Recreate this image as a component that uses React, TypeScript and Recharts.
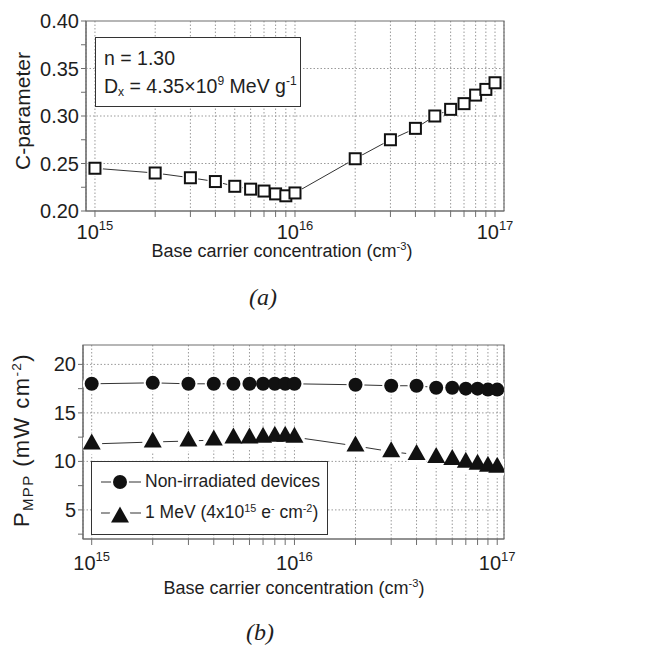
import React from "react";
import { LineChart, Line, XAxis, YAxis, CartesianGrid, ReferenceLine, ReferenceArea } from "recharts";

const FONT = "'Liberation Sans', Arial, sans-serif";
const INK = "#1e1e1e";
const AXIS = "#6e6e6e";
const GRID = "#9a9a9a";

// base carrier concentration (cm^-3), shared by both panels
const conc = [1e15, 2e15, 3e15, 4e15, 5e15, 6e15, 7e15, 8e15, 9e15, 1e16, 2e16, 3e16, 4e16, 5e16, 6e16, 7e16, 8e16, 9e16, 1e17];
// (a) C-parameter
const cParam = [0.245, 0.24, 0.235, 0.231, 0.226, 0.223, 0.221, 0.218, 0.216, 0.219, 0.255, 0.275, 0.287, 0.3, 0.307, 0.313, 0.322, 0.328, 0.335];
// (b) P_MPP (mW cm^-2)
const pNonIrr = [18.0, 18.1, 18.0, 18.0, 18.0, 18.0, 18.0, 18.0, 18.0, 18.0, 17.9, 17.8, 17.8, 17.6, 17.6, 17.5, 17.5, 17.4, 17.4];
const p1MeV = [11.8, 12.0, 12.1, 12.2, 12.4, 12.4, 12.5, 12.6, 12.6, 12.5, 11.6, 11.0, 10.7, 10.4, 10.2, 9.9, 9.7, 9.5, 9.4];

const decades = [1e15, 1e16, 1e17];
const cTicks = [0.2, 0.225, 0.25, 0.275, 0.3, 0.325, 0.35, 0.375, 0.4];
const cMajor = [0.2, 0.25, 0.3, 0.35, 0.4];
const pTicks = [2.5, 5, 7.5, 10, 12.5, 15, 17.5, 20];
const pMajor = [5, 10, 15, 20];

const xDomA = [9.02e14, 1.109e17];
const xDomB = [9.06e14, 1.08e17];
const cDom = [0.2, 0.4];
const pDom = [2, 22];

const dataA = conc.map((x, i) => ({ x, c: cParam[i] }));
const dataB = conc.map((x, i) => ({ x, non: pNonIrr[i], mev: p1MeV[i] }));

const isIn = (list: number[], v: number) => list.some((m) => Math.abs(m - v) <= Math.abs(m) * 1e-6);

const decadeTick = (dy: number) => (p: any) => {
  const v = p.payload.value;
  if (!isIn(decades, v)) return <g />;
  return (
    <text x={p.x} y={p.y} dy={dy} textAnchor="middle" fill={INK} fontSize={20} fontFamily={FONT}>
      10<tspan dy={-9} fontSize={13}>{Math.round(Math.log10(v))}</tspan>
    </text>
  );
};

const valueTick = (major: number[], digits: number) => (p: any) => {
  const v = p.payload.value;
  if (!isIn(major, v)) return <g />;
  return (
    <text x={p.x} y={p.y} dy={7} textAnchor="end" fill={INK} fontSize={20} fontFamily={FONT}>
      {v.toFixed(digits)}
    </text>
  );
};

// white halo under markers leaves a small gap in the connecting line
const halo = (r: number) => (p: any) => (
  <circle key={p.index} cx={p.cx} cy={p.cy} r={r} fill="#fff" />
);

const squareDot = (p: any) => (
  <rect key={p.index} x={p.cx - 5.5} y={p.cy - 5.5} width={11} height={11} fill="#fff" stroke="#111" strokeWidth={2} />
);

const circleDot = (p: any) => <circle key={p.index} cx={p.cx} cy={p.cy} r={7} fill="#111" />;

const triPath = (cx: number, cy: number) => `M${cx},${cy - 10.5}L${cx + 9},${cy + 5.5}L${cx - 9},${cy + 5.5}Z`;
const triDot = (p: any) => <path key={p.index} d={triPath(p.cx, p.cy)} fill="#111" />;

const sup: React.CSSProperties = { fontSize: "0.62em", position: "relative", top: "-0.62em" };
const sub: React.CSSProperties = { fontSize: "0.62em", position: "relative", top: "0.3em" };

const abs = (left: number, top: number, extra: React.CSSProperties = {}): React.CSSProperties => ({
  position: "absolute",
  left,
  top,
  fontFamily: FONT,
  color: INK,
  whiteSpace: "nowrap",
  lineHeight: 1,
  ...extra,
});

const centered = (x: number, y: number, size: number, rot = false): React.CSSProperties =>
  abs(x, y, { fontSize: size, transform: `translate(-50%,-50%)${rot ? " rotate(-90deg)" : ""}` });

const XTitle = ({ x, y }: { x: number; y: number }) => (
  <div style={centered(x, y, 18)}>
    Base carrier concentration (cm<span style={sup}>-3</span>)
  </div>
);

export default function App() {
  return (
    <div style={{ position: "absolute", left: 0, top: 0, width: 664, height: 650, background: "#fff" }}>
      <div style={{ position: "absolute", left: 0, top: 0 }}>
        <LineChart width={664} height={250} data={dataA} margin={{ top: 21, right: 160, left: 0, bottom: 0 }}>
          <CartesianGrid horizontal={false} stroke={GRID} strokeDasharray="1.5 2" />
          {[0.25, 0.3, 0.35].map((v) => (
            <ReferenceLine key={v} y={v} stroke={GRID} strokeDasharray="1.5 2" />
          ))}
          <ReferenceArea x1={xDomA[0]} x2={xDomA[1]} y1={cDom[0]} y2={cDom[1]} fill="none" stroke={AXIS} strokeWidth={1.2} ifOverflow="visible" />
          <XAxis dataKey="x" type="number" scale="log" domain={xDomA} allowDataOverflow ticks={conc} interval={0}
            height={39} stroke={AXIS} tickSize={6} tick={decadeTick(20)} />
          <YAxis type="number" domain={cDom} allowDataOverflow ticks={cTicks} interval={0} width={86}
            stroke={AXIS} tickSize={5} tick={valueTick(cMajor, 2)} />
          <Line dataKey="c" stroke="#333" strokeWidth={1} dot={halo(8)} activeDot={false} isAnimationActive={false} />
          <Line dataKey="c" stroke="none" dot={squareDot} activeDot={false} isAnimationActive={false} />
        </LineChart>
      </div>

      <div style={abs(95, 37, { width: 206, height: 70, border: "1.5px solid #333", boxSizing: "border-box", background: "#fff", fontSize: 19.5, padding: "11px 0 0 8px" })}>
        <div>n = 1.30</div>
        <div style={{ marginTop: 8 }}>
          D<span style={sub}>x</span> = 4.35×10<span style={sup}>9</span> MeV g<span style={sup}>-1</span>
        </div>
      </div>

      <div style={centered(22, 111, 21, true)}>C-parameter</div>
      <XTitle x={282} y={251} />
      <div style={abs(263, 297, { transform: "translate(-50%,-50%)", fontFamily: "'Liberation Serif', 'Times New Roman', serif", fontStyle: "italic", fontSize: 24 })}>
        (a)
      </div>

      <div style={{ position: "absolute", left: 0, top: 330 }}>
        <LineChart width={664} height={250} data={dataB} margin={{ top: 15, right: 160, left: 0, bottom: 0 }}>
          <CartesianGrid horizontal={false} stroke={GRID} strokeDasharray="1.5 2" />
          {pMajor.map((v) => (
            <ReferenceLine key={v} y={v} stroke={GRID} strokeDasharray="1.5 2" />
          ))}
          <ReferenceArea x1={xDomB[0]} x2={xDomB[1]} y1={pDom[0]} y2={pDom[1]} fill="none" stroke={AXIS} strokeWidth={1.2} ifOverflow="visible" />
          <XAxis dataKey="x" type="number" scale="log" domain={xDomB} allowDataOverflow ticks={conc} interval={0}
            height={41} stroke={AXIS} tickSize={6} tick={decadeTick(23)} />
          <YAxis type="number" domain={pDom} allowDataOverflow ticks={pTicks} interval={0} width={83}
            stroke={AXIS} tickSize={5} tick={valueTick(pMajor, 0)} />
          <Line dataKey="non" stroke="#333" strokeWidth={1} dot={halo(9)} activeDot={false} isAnimationActive={false} />
          <Line dataKey="mev" stroke="#333" strokeWidth={1} dot={halo(10.5)} activeDot={false} isAnimationActive={false} />
          <Line dataKey="non" stroke="none" dot={circleDot} activeDot={false} isAnimationActive={false} />
          <Line dataKey="mev" stroke="none" dot={triDot} activeDot={false} isAnimationActive={false} />
        </LineChart>
      </div>

      <div style={abs(91, 461, { width: 237, height: 74, border: "1.5px solid #333", boxSizing: "border-box", background: "#fff", fontSize: 17.5 })}>
        {[
          { name: "Non-irradiated devices", shape: "circle" },
          { name: "1 MeV", shape: "tri" },
        ].map((e, i) => (
          <div key={e.name} style={{ position: "absolute", left: 7, top: 8 + i * 31, display: "flex", alignItems: "center", height: 24 }}>
            <svg width={44} height={24}>
              <line x1={2} y1={12} x2={42} y2={12} stroke="#333" strokeWidth={1} />
              {e.shape === "circle" ? (
                <>
                  <circle cx={21} cy={12} r={9} fill="#fff" />
                  <circle cx={21} cy={12} r={7} fill="#111" />
                </>
              ) : (
                <>
                  <circle cx={21} cy={14} r={10.5} fill="#fff" />
                  <path d={triPath(21, 16)} fill="#111" />
                </>
              )}
            </svg>
            <span style={{ marginLeft: 2 }}>
              {e.shape === "circle" ? (
                e.name
              ) : (
                <>
                  1 MeV (4x10<span style={sup}>15</span> e<span style={sup}>-</span> cm<span style={sup}>-2</span>)
                </>
              )}
            </span>
          </div>
        ))}
      </div>

      <div style={{ ...centered(22, 440, 22, true), letterSpacing: 1.4 }}>
        P<span style={{ ...sub, fontSize: "0.68em" }}>MPP</span> (mW cm<span style={sup}>-2</span>)
      </div>
      <XTitle x={294} y={588} />
      <div style={abs(260, 632, { transform: "translate(-50%,-50%)", fontFamily: "'Liberation Serif', 'Times New Roman', serif", fontStyle: "italic", fontSize: 24 })}>
        (b)
      </div>
    </div>
  );
}
